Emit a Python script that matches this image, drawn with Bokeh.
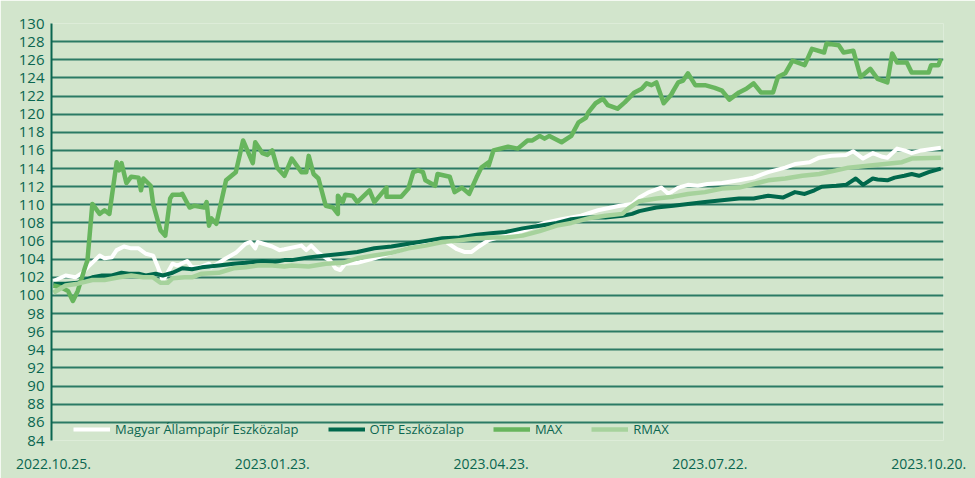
from bokeh.plotting import figure
from bokeh.models import Range1d, FixedTicker
from bokeh.embed import file_html
from bokeh.resources import INLINE

# ---------------- data ----------------
tick_days = [0, 90, 180, 270, 360]
tick_labels = ["2022.10.25.", "2023.01.23.", "2023.04.23.", "2023.07.22.", "2023.10.20."]
y_ticks = list(range(84, 131, 2))

series_names = ["Magyar Állampapír Eszközalap", "OTP Eszközalap", "MAX", "RMAX"]

mae_days = [0, 5, 9, 12, 14, 19, 21, 24, 26, 29, 32, 35, 38, 41, 43, 44, 45, 49, 51, 55,
            57, 60, 64, 65, 71, 75, 79, 81, 83, 84, 90, 93, 95, 102, 104, 106, 109, 114, 116, 118,
            120, 125, 132, 137, 143, 151, 161, 166, 169, 172, 175, 179, 186, 194, 202, 209, 217, 224, 233, 238,
            241, 245, 250, 253, 257, 261, 265, 269, 275, 282, 288, 294, 301, 305, 311, 315, 320, 326, 329, 333,
            337, 341, 343, 347, 350, 353, 357, 365]
mae_vals = [101.6, 102.2, 102.0, 102.5, 103.1, 104.4, 104.1, 104.2, 105.0, 105.4, 105.2, 105.2, 104.6, 104.4, 103.1, 102.4, 101.6, 103.5, 103.3, 103.8,
            103.1, 103.1, 103.5, 103.1, 104.1, 104.7, 105.7, 105.9, 105.2, 105.9, 105.4, 105.0, 105.1, 105.5, 105.0, 105.5, 104.7, 103.8, 103.0, 102.8,
            103.5, 103.6, 104.1, 104.5, 105.0, 105.6, 106.0, 105.1, 104.8, 104.8, 105.4, 106.1, 106.6, 107.2, 108.0, 108.4, 108.8, 109.4, 109.9, 110.1,
            110.8, 111.4, 111.9, 111.2, 111.9, 112.2, 112.1, 112.3, 112.4, 112.7, 113.0, 113.6, 114.1, 114.5, 114.7, 115.2, 115.4, 115.5, 115.9, 115.1,
            115.7, 115.3, 115.2, 116.2, 116.0, 115.7, 116.0, 116.3]

otp_days = [0, 5, 10, 16, 20, 24, 28, 31, 35, 38, 42, 45, 49, 53, 57, 61, 68, 74, 79, 86,
            91, 95, 98, 105, 112, 119, 125, 132, 139, 146, 153, 160, 167, 174, 181, 186, 193, 200, 207, 213,
            220, 227, 234, 238, 241, 248, 255, 261, 268, 275, 282, 288, 294, 300, 305, 309, 313, 316, 322, 326,
            330, 333, 337, 339, 343, 346, 350, 353, 356, 360, 365]
otp_vals = [101.3, 101.3, 101.4, 102.0, 102.2, 102.2, 102.5, 102.4, 102.4, 102.2, 102.4, 102.2, 102.5, 103.0, 102.9, 103.1, 103.3, 103.5, 103.6, 103.8,
            103.7, 103.9, 103.9, 104.2, 104.4, 104.6, 104.8, 105.2, 105.4, 105.7, 106.0, 106.3, 106.4, 106.7, 106.9, 107.0, 107.4, 107.7, 108.0, 108.4,
            108.6, 108.6, 108.8, 109.0, 109.3, 109.7, 109.9, 110.1, 110.3, 110.5, 110.7, 110.7, 111.0, 110.8, 111.4, 111.2, 111.6, 112.0, 112.1, 112.2,
            112.9, 112.2, 112.9, 112.8, 112.7, 113.0, 113.2, 113.4, 113.2, 113.6, 114.0]

max_days = [0, 3, 6, 8, 10, 13, 14, 16, 19, 21, 23, 26, 27, 28, 30, 32, 35, 36, 37, 40,
            41, 44, 46, 48, 49, 52, 53, 56, 58, 62, 63, 64, 65, 67, 71, 75, 78, 82, 83, 86,
            88, 90, 92, 95, 98, 102, 104, 105, 107, 109, 112, 115, 117, 117, 119, 120, 123, 125, 130, 132,
            137, 137, 143, 146, 148, 150, 152, 153, 157, 158, 163, 165, 168, 171, 174, 176, 179, 179, 181, 187,
            191, 195, 197, 200, 202, 204, 209, 213, 216, 219, 220, 223, 226, 228, 232, 235, 239, 242, 244, 246,
            248, 251, 254, 255, 257, 259, 261, 264, 268, 272, 275, 278, 282, 285, 288, 291, 296, 298, 301, 304,
            309, 312, 317, 318, 323, 325, 329, 332, 336, 339, 343, 345, 347, 351, 353, 360, 361, 364, 365]
max_vals = [101.1, 100.9, 100.5, 99.4, 100.5, 103.1, 103.9, 110.1, 109.0, 109.4, 109.0, 114.7, 113.8, 114.6, 112.4, 113.1, 113.0, 111.6, 112.9, 112.1,
            110.1, 107.2, 106.6, 110.7, 111.1, 111.1, 111.2, 109.7, 109.9, 109.7, 110.3, 107.7, 108.5, 107.9, 112.7, 113.6, 117.1, 114.6, 116.9, 115.7,
            115.5, 116.0, 114.1, 113.2, 115.1, 113.6, 113.6, 115.4, 113.4, 112.9, 109.9, 109.7, 109.0, 111.0, 110.3, 111.1, 111.0, 110.3, 111.6, 110.3,
            111.9, 110.9, 110.9, 111.8, 113.6, 113.8, 113.6, 112.7, 112.1, 113.4, 113.1, 111.4, 111.9, 111.2, 113.0, 114.1, 114.7, 114.3, 116.0, 116.4,
            116.2, 117.1, 117.1, 117.6, 117.3, 117.6, 116.9, 117.6, 119.1, 119.6, 120.2, 121.2, 121.7, 121.0, 120.6, 121.3, 122.4, 122.8, 123.4, 123.2,
            123.5, 121.2, 122.1, 122.6, 123.5, 123.7, 124.5, 123.2, 123.2, 122.9, 122.6, 121.6, 122.4, 122.8, 123.4, 122.4, 122.4, 124.1, 124.5, 125.9,
            125.4, 127.2, 126.8, 127.8, 127.6, 126.8, 127.0, 124.1, 125.0, 123.9, 123.5, 126.7, 125.7, 125.7, 124.6, 124.6, 125.4, 125.4, 126.1]

rmax_days = [0, 5, 10, 16, 21, 27, 32, 37, 41, 44, 47, 49, 54, 57, 61, 68, 74, 79, 84, 90,
             95, 98, 105, 112, 119, 125, 132, 139, 146, 153, 160, 167, 174, 181, 186, 193, 200, 207, 213, 220,
             227, 234, 237, 241, 248, 255, 261, 268, 275, 282, 288, 294, 301, 308, 315, 322, 327, 335, 342, 349,
             353, 365]
rmax_vals = [100.3, 101.1, 101.3, 101.7, 101.7, 102.0, 102.2, 102.0, 102.0, 101.4, 101.4, 101.9, 102.0, 102.0, 102.4, 102.5, 103.0, 103.1, 103.3, 103.3,
             103.2, 103.3, 103.2, 103.5, 103.6, 104.1, 104.4, 104.7, 105.2, 105.5, 105.9, 106.1, 106.3, 106.4, 106.4, 106.6, 107.1, 107.7, 108.0, 108.5,
             108.8, 109.0, 109.7, 110.4, 110.7, 110.9, 111.2, 111.4, 111.8, 111.9, 112.3, 112.7, 112.9, 113.2, 113.4, 113.8, 114.1, 114.3, 114.5, 114.7,
             115.1, 115.2]

# ---------------- styling ----------------
BG = "#d2e5cc"
TEXT = "#0a6650"
GRID = "#2b7a64"
C_MAE = "#ffffff"
C_OTP = "#00684c"
C_MAX = "#67b55d"
C_RMAX = "#a6d29c"
FONT = "Open Sans"

p = figure(width=975, height=478, output_backend="svg", toolbar_location=None,
           x_range=Range1d(-0.8, 366.1), y_range=Range1d(84, 130),
           min_border_left=51, min_border_right=32, min_border_top=23, min_border_bottom=38,
           background_fill_color=BG, border_fill_color=BG, outline_line_color=None)

# axes
p.yaxis.ticker = FixedTicker(ticks=y_ticks)
p.yaxis.axis_line_color = TEXT
p.yaxis.axis_line_width = 2
p.yaxis.major_tick_line_color = None
p.yaxis.minor_tick_line_color = None
p.yaxis.major_tick_out = 0
p.yaxis.major_tick_in = 0
p.yaxis.major_label_standoff = 7
p.yaxis.major_label_text_font = FONT
p.yaxis.major_label_text_font_size = "15px"
p.yaxis.major_label_text_color = TEXT

p.xaxis.ticker = FixedTicker(ticks=tick_days)
p.xaxis.major_label_overrides = {d: lab for d, lab in zip(tick_days, tick_labels)}
p.xaxis.axis_line_color = None
p.xaxis.major_tick_line_color = None
p.xaxis.minor_tick_line_color = None
p.xaxis.major_tick_out = 0
p.xaxis.major_tick_in = 0
p.xaxis.major_label_standoff = 18
p.xaxis.major_label_text_font = FONT
p.xaxis.major_label_text_font_size = "14px"
p.xaxis.major_label_text_color = TEXT

p.xgrid.visible = False
p.ygrid.ticker = FixedTicker(ticks=y_ticks)
p.ygrid.grid_line_color = GRID
p.ygrid.grid_line_width = 1.8

# series (drawing order as in the reference)
p.line(mae_days, mae_vals, line_color=C_MAE, line_width=4, line_join="round",
       legend_label=series_names[0])
p.line(otp_days, otp_vals, line_color=C_OTP, line_width=4, line_join="round",
       legend_label=series_names[1])
p.line(max_days, max_vals, line_color=C_MAX, line_width=4.5, line_join="round",
       legend_label=series_names[2])
p.line(rmax_days, rmax_vals, line_color=C_RMAX, line_width=4.5, line_join="round",
       legend_label=series_names[3])

leg = p.legend[0]
leg.orientation = "horizontal"
leg.location = (22, 2)
leg.padding = 0
leg.margin = 0
leg.spacing = 29
leg.glyph_width = 37
leg.glyph_height = 14
leg.label_height = 14
leg.label_standoff = 5
leg.label_text_font = FONT
leg.label_text_font_size = "13px"
leg.label_text_color = TEXT
leg.background_fill_alpha = 0
leg.border_line_alpha = 0

open("out.html", "w").write(file_html(p, INLINE))
